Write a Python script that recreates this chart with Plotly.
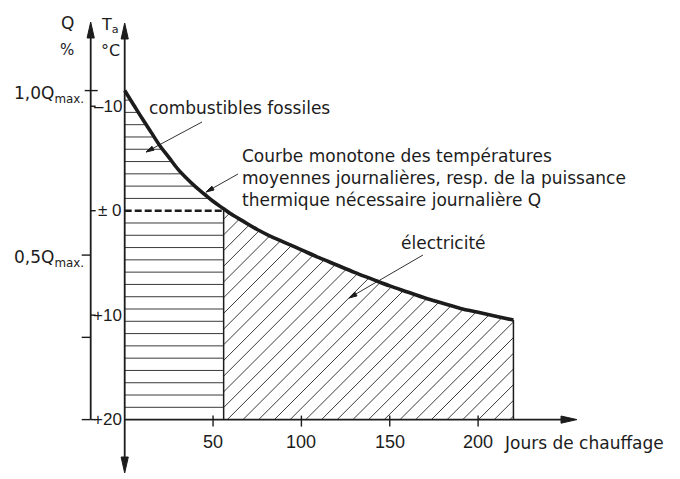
import numpy as np
import plotly.graph_objects as go

# ---------------- data ----------------
days = [0, 5, 10, 15, 20, 25, 30, 35, 40, 45, 50, 56, 60, 67, 75, 82, 90, 100, 110, 120,
        130, 140, 150, 160, 170, 180, 190, 200, 210, 220]
temp = [-11.5, -10.15, -8.8, -7.5, -6.2, -5.1, -4.0, -3.1, -2.3, -1.6, -0.9, -0.18, 0.3,
        1.0, 1.8, 2.4, 3.0, 3.75, 4.5, 5.2, 5.9, 6.55, 7.2, 7.78, 8.36, 8.86, 9.36, 9.73,
        10.1, 10.47]
split_day = 56          # limit fossil fuels / electricity
split_temp = 0.0        # Ta = ± 0 °C
end_day = 220
t_inside = 20.0         # Ta at Q = 0
t_design = -11.5        # Ta at Q = Qmax

x_ticks = [50, 100, 150, 200]
ta_ticks = [-10, 0, 10, 20]
ta_labels = ["–10", "± 0", "+10", "+20"]
q_ticks = [1.0, 0.5, 0.25, 0.0]
q_labels = ["1,0Q<sub>max.</sub>", "0,5Q<sub>max.</sub>", "", ""]

# ---------------- page geometry (page pixels; body margin = 8 px) ----------------
OFF = 8
W, H = 680 - OFF, 479 - OFF
SX = 1.767              # px per day
SY = 10.445             # px per °C
X0 = -(124.7 - OFF) / SX
X_RANGE = [X0, X0 + W / SX]
Y_TOP = -(210.7 - OFF) / SY
Y_BOTTOM = Y_TOP + H / SY


def to_px(d):
    return (np.asarray(d, dtype=float) - X_RANGE[0]) * SX + OFF


def to_py(t):
    return (np.asarray(t, dtype=float) - Y_TOP) * SY + OFF


def from_px(p):
    return X_RANGE[0] + (np.asarray(p, dtype=float) - OFF) / SX


def from_py(p):
    return Y_TOP + (np.asarray(p, dtype=float) - OFF) / SY


def q_to_ta(q):
    return t_inside - (t_inside - t_design) * q


INK = "#1c1c1c"
HATCH = "#3a3a3a"
FAM = "DejaVu Sans"
NUM = "Liberation Sans"
FONT = dict(family=FAM, size=17, color=INK)

fig = go.Figure()


def add_line(xs, ys, width, color=INK, dash="solid", shape="linear"):
    fig.add_trace(go.Scatter(x=xs, y=ys, mode="lines", hoverinfo="skip",
                             line=dict(color=color, width=width, dash=dash, shape=shape),
                             showlegend=False))


def add_head(tip_px, tip_py, dx, dy, length, half_w, color=INK):
    n = np.hypot(dx, dy)
    ux, uy = dx / n, dy / n
    bx, by = tip_px - ux * length, tip_py - uy * length
    px = [tip_px, bx - uy * half_w, bx + uy * half_w, tip_px]
    py = [tip_py, by + ux * half_w, by - ux * half_w, tip_py]
    fig.add_trace(go.Scatter(x=from_px(px), y=from_py(py), mode="lines",
                             fill="toself", fillcolor=color,
                             line=dict(color=color, width=1),
                             hoverinfo="skip", showlegend=False))


# ---------------- horizontal hatching: fossil fuels ----------------
step = (t_inside - split_temp) / 17
hx, hy = [], []
k = 1
while True:
    level = t_inside - k * step
    if level <= temp[0]:
        break
    if abs(level - split_temp) > 1e-9:
        if level > split_temp:
            x_end = split_day
        else:
            x_end = min(split_day, float(np.interp(level, temp, days)))
        hx += [0, x_end, None]
        hy += [level, level, None]
    k += 1
add_line(hx, hy, 1.0, HATCH)

# ---------------- diagonal hatching: electricity ----------------
p_left, p_right = float(to_px(split_day)), float(to_px(end_day))
p_bottom = float(to_py(t_inside))
samp = np.linspace(p_left, p_right, 1600)
curve_py = to_py(np.interp(from_px(samp), days, temp))
dx_, dy_ = [], []
c0 = 243 + p_bottom
spacing = 15.7
for kk in range(-60, 60):
    c = c0 + kk * spacing
    py = c - samp
    inside = (py <= p_bottom) & (py >= curve_py)
    if inside.any():
        sel = samp[inside]
        a, b = sel.min(), sel.max()
        if b - a < 1:
            continue
        dx_ += [float(from_px(a)), float(from_px(b)), None]
        dy_ += [float(from_py(c - a)), float(from_py(c - b)), None]
add_line(dx_, dy_, 1.0, HATCH)

# ---------------- boundaries ----------------
end_temp = float(np.interp(end_day, days, temp))
split_curve = float(np.interp(split_day, days, temp))
add_line([split_day, split_day], [split_curve, t_inside], 1.5)
add_line([end_day, end_day], [end_temp, t_inside], 1.5)
add_line([0, split_day], [split_temp, split_temp], 2.6, INK, "7px,3px")

# ---------------- monotone curve ----------------
add_line(days, temp, 3.6, shape="spline")

# ---------------- axes ----------------
ax0 = float(to_px(0))
q_axis_px = ax0 - 34
q_axis_day = float(from_px(q_axis_px))

# Ta axis (vertical, arrows both ends)
add_line([0, 0], [float(from_py(458)), float(from_py(36))], 1.8)
add_head(ax0, 23, 0, -1, 16, 3.6)
add_head(ax0, 473, 0, 1, 16, 3.6)
# Q axis
add_line([q_axis_day, q_axis_day], [t_inside, float(from_py(36))], 1.8)
add_head(q_axis_px, 22, 0, -1, 16, 3.6)
# day axis
add_line([0, float(from_px(562))], [t_inside, t_inside], 1.8)
add_head(577, p_bottom, 1, 0, 16, 3.6)

# day ticks
tx, ty = [], []
for d in x_ticks:
    tx += [d, d, None]
    ty += [float(from_py(p_bottom - 4)), float(from_py(p_bottom + 7)), None]
add_line(tx, ty, 1.4)

# Ta ticks (right side of Q axis) and Q ticks (left side)
tx, ty = [], []
for t in ta_ticks:
    tx += [q_axis_day, float(from_px(q_axis_px + 5)), None]
    ty += [t, t, None]
for q in q_ticks:
    t = q_to_ta(q)
    left = q_axis_px - (6 if q == 1.0 else 9)
    right = q_axis_px + (7 if q == 1.0 else 0)
    tx += [float(from_px(left)), float(from_px(right)), None]
    ty += [t, t, None]
add_line(tx, ty, 1.4)

# ---------------- text ----------------
ann = []


def text(s, px, py, xanchor="center", yanchor="middle", size=17, align="left", fam=FAM):
    ann.append(dict(text=s, x=float(from_px(px)), y=float(from_py(py)),
                    xref="x", yref="y", showarrow=False, xanchor=xanchor,
                    yanchor=yanchor, align=align,
                    font=dict(family=fam, size=size, color=INK)))


for d in x_ticks:
    ann.append(dict(text=str(d), x=d, y=float(from_py(442)), xref="x", yref="y",
                    showarrow=False, xanchor="center", yanchor="middle",
                    font=dict(family=NUM, size=18, color=INK)))
text("Jours de chauffage", 502, 443, xanchor="left")

for t, lab in zip(ta_ticks, ta_labels):
    ann.append(dict(text=lab, x=float(from_px(ax0 - 1)), y=t, xref="x", yref="y",
                    showarrow=False, xanchor="right", yanchor="middle",
                    font=dict(family=NUM, size=17, color=INK)))

for q, lab in zip(q_ticks, q_labels):
    if lab:
        ann.append(dict(text=lab, x=float(from_px(q_axis_px - 5)), y=q_to_ta(q) + 0.35,
                        xref="x", yref="y", showarrow=False, xanchor="right",
                        yanchor="middle", font=FONT))

text("Q", 67, 23)
text("%", 67, 50, size=15)
text("T<sub>a</sub>", 121, 25, xanchor="right", size=16)
text("°C", 110, 50, size=16)

text("combustibles fossiles", 147, 108, xanchor="left")
text("Courbe monotone des températures<br>moyennes journalières, resp. de la puissance<br>"
     "thermique nécessaire journalière Q", 240, 178, xanchor="left")
text("électricité", 399, 243, xanchor="left")

# leaders
for (x0, y0, x1, y1) in [(202, 122, 146, 152), (238, 174, 206, 192), (423, 255, 349, 298)]:
    add_line([float(from_px(x0)), float(from_px(x1))], [float(from_py(y0)), float(from_py(y1))], 0.9)
    add_head(x1, y1, x1 - x0, y1 - y0, 8, 2.2)

fig.update_layout(
    width=W, height=H,
    margin=dict(l=0, r=0, t=0, b=0, pad=0),
    paper_bgcolor="white", plot_bgcolor="white",
    showlegend=False,
    xaxis=dict(range=X_RANGE, visible=False, fixedrange=True),
    yaxis=dict(range=[Y_BOTTOM, Y_TOP], visible=False, fixedrange=True),
    annotations=ann,
)

fig.write_html("out.html")
